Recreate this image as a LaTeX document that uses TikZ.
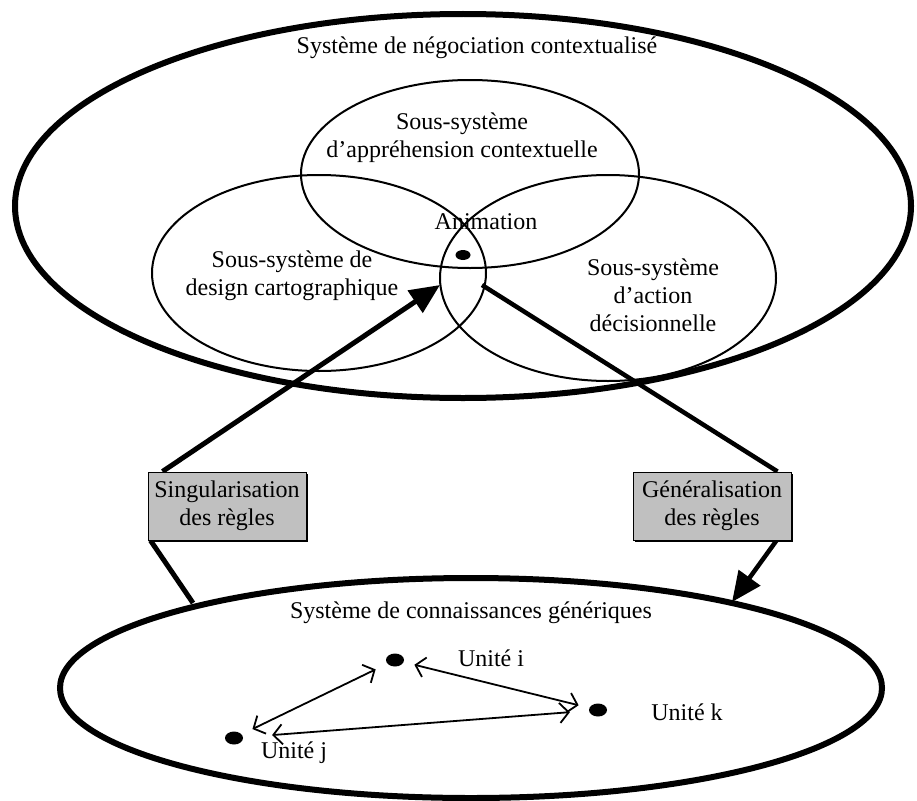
\documentclass[tikz,border=0pt]{standalone}
\usepackage{fontspec}
\setmainfont{Liberation Serif}
\usetikzlibrary{arrows.meta, backgrounds, calc}
\usetikzlibrary{shapes.geometric, shadows}

\definecolor{boxgray}{RGB}{192,192,192}

\tikzset{
  sysell/.style={draw, ellipse, line width=6pt, inner sep=0pt},
  subell/.style={draw, ellipse, line width=2pt, inner sep=0pt},
  lbl/.style={font=\fontsize{24}{28}\selectfont, align=center, inner sep=0pt},
  rulebox/.style={draw, line width=1pt, fill=boxgray, lbl, minimum width=158pt, minimum height=68pt,
    drop shadow={shadow xshift=1.5pt, shadow yshift=-1.5pt, fill=black, opacity=1}},
  bigline/.style={line width=5pt},
  bigarrow/.style={line width=5pt, -{Triangle[length=30pt, width=26pt]}},
  unitarrow/.style={line width=1.8pt, {Straight Barb[length=9pt, width=20pt]}-{Straight Barb[length=9pt, width=20pt]}},
  unitdot/.style={ellipse, fill=black, inner sep=0pt, minimum width=18pt, minimum height=13pt}
}

\begin{document}
\begin{tikzpicture}[x=1pt, y=-1pt]

\useasboundingbox (0,0) rectangle (917,800);

% systeme de negociation contextualise
\node [sysell, minimum width=896pt, minimum height=384pt] (nego) at (463,206) {};
\node [lbl] (negotitle) at (477,48) {Système de négociation contextualisé};

\node [subell, minimum width=338pt, minimum height=188pt] (apprehension) at (470,174) {};
\node [subell, minimum width=334pt, minimum height=196pt] (design) at (319,273) {};
\node [subell, minimum width=336pt, minimum height=206pt] (action) at (608,278) {};

\node [lbl] (apprehensiontxt) at (462,138) {Sous-système\\d’appréhension contextuelle};
\node [lbl] (designtxt) at (292,276) {Sous-système de\\design cartographique};
\node [lbl] (actiontxt) at (653,295) {Sous-système\\d’action\\décisionnelle};

\node [lbl] (animtxt) at (486,222) {Animation};
\node [unitdot, minimum width=15pt, minimum height=10pt] (anim) at (463,255) {};

% systeme de connaissances generiques
\node [sysell, minimum width=822pt, minimum height=220pt] (generic) at (471,688) {};
\node [lbl] (generictitle) at (471,613) {Système de connaissances génériques};

\node [unitdot] (ui) at (395,660) {};
\node [unitdot] (uk) at (598,710) {};
\node [unitdot] (uj) at (234,738) {};

\node [lbl] at (491,658) {Unité i};
\node [lbl] at (687,712) {Unité k};
\node [lbl] at (294,753) {Unité j};

\draw [unitarrow, shorten <=13pt, shorten >=12pt] (ui) -- (uj);
\draw [unitarrow, shorten <=11pt, shorten >=11pt] (ui) -- (uk);
\draw [unitarrow, shorten <=29pt, shorten >=19pt] (uj) -- (uk);

% regles
\node [rulebox] (sing) at (227,506) {Singularisation\\des règles};
\node [rulebox] (gen) at (712,506) {Généralisation\\des règles};

\coordinate (animL) at (440,285);
\coordinate (animR) at (482,285);
\coordinate (genL) at (193,603);
\coordinate (genR) at (732,602);

\begin{pgfonlayer}{background}
\draw [bigline] (genL) -- ($(sing.south west)+(3,0)$);
\draw [bigarrow] ($(sing.north west)+(15,0)$) -- (animL);
\draw [bigline, line width=4.5pt] (animR) -- ($(gen.north east)+(-14,0)$);
\draw [bigarrow, line width=4.5pt] ($(gen.south east)+(-15,0)$) -- (genR);
\end{pgfonlayer}

\end{tikzpicture}
\end{document}
